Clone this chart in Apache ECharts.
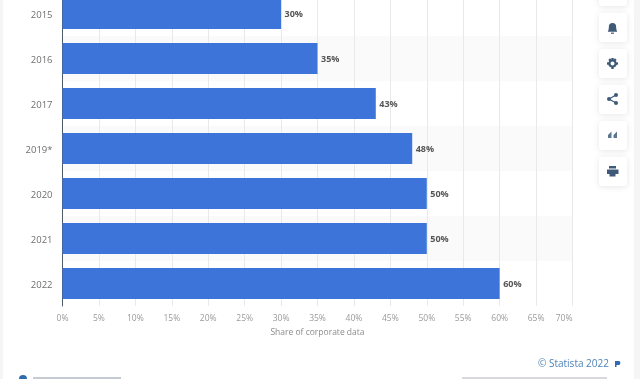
<!DOCTYPE html>
<html><head><meta charset="utf-8">
<style>html,body{margin:0;padding:0;background:#fff}#c{width:640px;height:379px}</style>
<script src="https://cdn.jsdelivr.net/npm/echarts@6/dist/echarts.min.js"></script>
</head><body><div id="c"></div>
<script>
const categories = ['2015','2016','2017','2019*','2020','2021','2022'];
const values = [30,35,43,48,50,50,60];
const axisTitle = 'Share of corporate data';
const credit = '\u00A9 Statista 2022';
const F = '"Open Sans", sans-serif';
const iconColor = '#3f5a78';
const buttons = [[-24,6],[13,42],[49,78],[85,114],[121,150],[157,186]];
function btn(b){return {type:'rect',shape:{x:599,y:b[0],width:28,height:b[1]-b[0],r:3},
  style:{fill:'#fff',shadowBlur:6,shadowColor:'rgba(0,0,0,0.10)',shadowOffsetY:1},z:5};}
function poly(points,fill){return {type:'polygon',shape:{points:points},style:{fill:fill||iconColor},z:6};}
function box(x,y,w,h,fill){return {type:'rect',shape:{x:x,y:y,width:w,height:h},style:{fill:fill||iconColor},z:6};}
const shapes = [
 {type:'rect',shape:{x:0,y:0,width:3,height:379},style:{fill:'#f5f5f5'},z:1},
 {type:'rect',shape:{x:634,y:0,width:6,height:379},style:{fill:'#f5f5f5'},z:1},
 ...buttons.map(btn),
 // bell
 {type:'circle',shape:{cx:612.5,cy:26.5,r:3.6},style:{fill:iconColor},z:6},
 poly([[609,26.5],[616,26.5],[616.5,30],[617.2,31.8],[607.8,31.8],[608.5,30]]),
 box(611,32.6,3,1.2),
 // gear
 box(611.3,58,2.4,11), box(607,62.3,11,2.4),
 poly([[608.3,60],[610,58.3],[616.7,65],[615,66.7]]),
 poly([[615,58.3],[616.7,60],[610,66.7],[608.3,65]]),
 {type:'circle',shape:{cx:612.5,cy:63.5,r:3},style:{fill:'#fff',stroke:iconColor,lineWidth:2},z:6},
 // share
 {type:'polyline',shape:{points:[[616,95],[609,99],[616,103]]},style:{fill:'none',stroke:iconColor,lineWidth:1.2},z:6},
 {type:'circle',shape:{cx:616,cy:95,r:2},style:{fill:iconColor},z:6},
 {type:'circle',shape:{cx:609,cy:99,r:2},style:{fill:iconColor},z:6},
 {type:'circle',shape:{cx:616,cy:103,r:2},style:{fill:iconColor},z:6},
 // quote
 poly([[608,135],[611.5,131.5],[611.5,134.5],[611.5,138],[608,138]],'#5d7690'),
 poly([[613.5,135],[617,131.5],[617,134.5],[617,138],[613.5,138]],'#5d7690'),
 // printer
 box(609,166,7,2.5), box(607,169.5,11.5,4.5), box(609.5,174,6,2.5),
 // credit
 {type:'text',x:538,y:359,style:{text:credit,font:'10px '+F,fill:'#4d83b8'},z:6},
 poly([[615,361],[619.5,361],[620.5,363],[619.5,365],[616.5,365],[616.5,367],[615,367]],'#2f6bb0'),
 // cut off information row
 {type:'circle',shape:{cx:23,cy:379,r:4},style:{fill:'#2f6bb0'},z:6},
 {type:'rect',shape:{x:33,y:377,width:88,height:2},style:{fill:'#9fa9b5',opacity:0.6},z:6},
 {type:'rect',shape:{x:462,y:377,width:145,height:2},style:{fill:'#c4c8cd',opacity:0.7},z:6}
];
const chart = echarts.init(document.getElementById('c'),null,{renderer:'canvas'});
chart.setOption({
 animation:false,
 backgroundColor:'#fff',
 grid:{left:62.5,width:510,top:-9,height:315,containLabel:false,outerBoundsMode:'none'},
 xAxis:{type:'value',min:0,max:70,interval:5,
  axisLine:{show:false},
  axisTick:{show:false},
  splitLine:{show:true,lineStyle:{color:'#e9e9ea',width:1}},
  axisLabel:{color:'#9a9a9a',fontSize:8.5,fontFamily:F,margin:8.5,formatter:'{value}%',hideOverlap:false,alignMaxLabel:'right'},
  name:axisTitle,nameLocation:'middle',nameGap:22.5,
  nameTextStyle:{color:'#8c8c8c',fontSize:8.5,fontFamily:F}},
 yAxis:{type:'category',data:categories,inverse:true,
  axisLine:{show:true,lineStyle:{color:'#4f5b68',width:1}},
  axisTick:{show:false},
  splitArea:{show:true,areaStyle:{color:['rgba(255,255,255,0)','rgba(247,247,248,0.6)']}},
  axisLabel:{margin:10,formatter:'{a|{value}}',
    rich:{a:{color:'#6e6e6e',fontSize:9.5,fontFamily:F,padding:[4,0,0,0]}}}},
 series:[{type:'bar',data:values,barWidth:31,
  itemStyle:{color:'#3c74da'},
  label:{show:true,position:'right',distance:3.5,formatter:'{c}%',color:'#555',
    fontSize:9,fontWeight:'bold',fontFamily:F,offset:[0,1]}}],
 graphic:{elements:shapes}
});
</script></body></html>
